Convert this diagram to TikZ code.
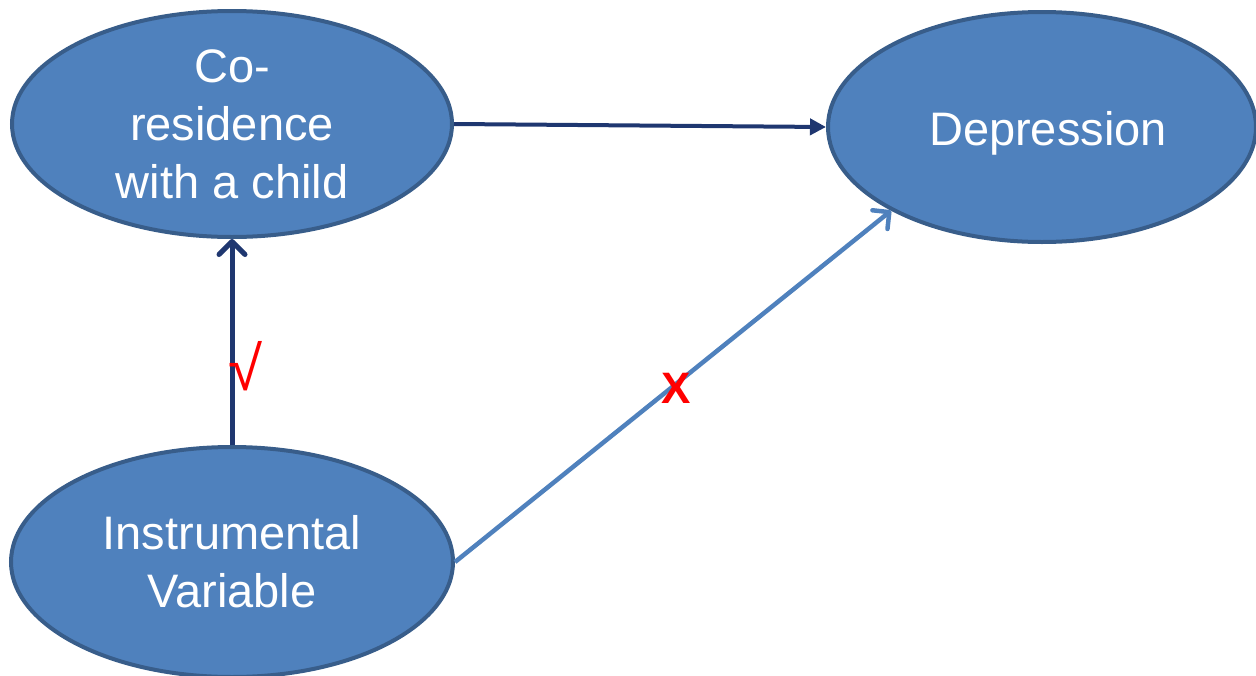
\documentclass[tikz,border=0pt]{standalone}
\usepackage{fontspec}
\setmainfont{Liberation Sans}
\usetikzlibrary{shapes.geometric,arrows.meta}
\definecolor{nodefill}{HTML}{4F81BD}
\definecolor{nodeline}{HTML}{385D8A}
\definecolor{navy}{HTML}{1F3770}
\definecolor{lightblue}{HTML}{4F81BD}
\begin{document}
\begin{tikzpicture}[x=1pt,y=-1pt,
  varnode/.style={ellipse, fill=nodefill, draw=nodeline, line width=4pt,
    minimum width=440pt, minimum height=226pt, inner sep=0pt, text=white,
    align=center, font=\fontsize{47}{58}\selectfont},
  darkarrow/.style={draw=navy, line width=4pt, -{Triangle[length=16pt,width=16pt]}},
  openarrow/.style={draw=navy, line width=5pt, -{Straight Barb[length=13pt,width=26pt,round]}},
  lightarrow/.style={draw=lightblue, line width=4.5pt, -{Straight Barb[length=12pt,width=24pt,round]}},
  marklabel/.style={text=red, inner sep=0pt}
]
\useasboundingbox (0,0) rectangle (1256,675);
\node[varnode] (co) at (232,124) {Co-\\residence\\with a child};
\node[varnode, minimum width=428pt, minimum height=230pt, text height=46pt, text depth=10pt] (dep) at (1042,127) {\hspace*{12pt}Depression};
\node[varnode, minimum width=442pt, minimum height=230pt] (iv) at (232,562) {Instrumental\\Variable};
\draw[darkarrow] (co.east) -- (dep.west);
\draw[openarrow] (iv.north) -- (co.south);
\draw[lightarrow] (iv.east) -- (dep.209);
\node[marklabel, font=\fontsize{62}{70}\selectfont] (chk) at (246,366) {√};
\node[marklabel, font=\bfseries\fontsize{44}{52}\selectfont] (cross) at (676,388) {X};
\end{tikzpicture}
\end{document}
